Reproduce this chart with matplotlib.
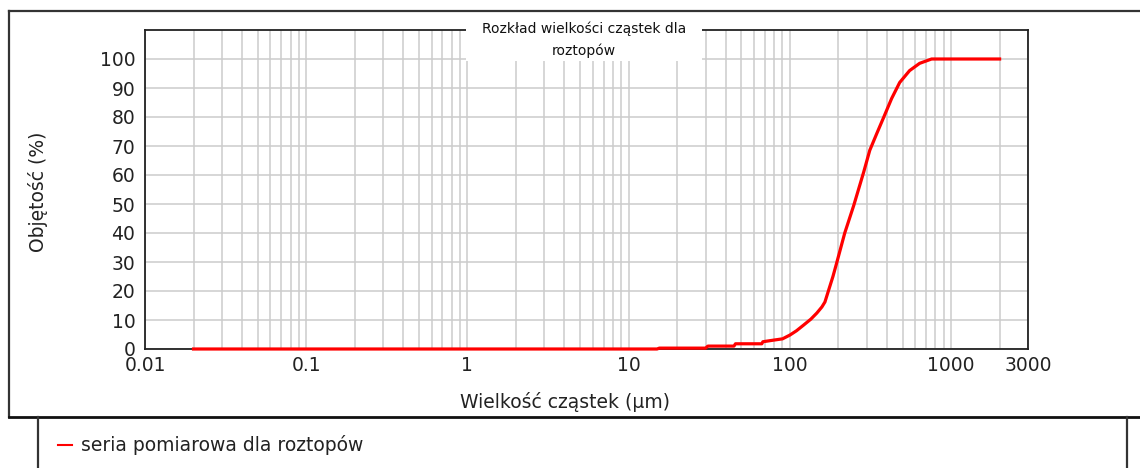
import matplotlib
matplotlib.use("Agg")
import matplotlib.pyplot as plt
from matplotlib.patches import Rectangle
from matplotlib.lines import Line2D
from matplotlib.ticker import FixedLocator, LogLocator, NullFormatter

# particle size (um) and cumulative volume (%)
sizes = [0.02, 15, 15.5, 30, 31, 45, 46, 67, 68, 78, 90, 100, 110, 122, 135,
         147, 158, 165, 174, 185, 195, 219, 249, 287, 313, 346, 382, 428,
         480, 553, 638, 757, 2000]
volume = [0, 0, 0.3, 0.3, 1.0, 1.0, 1.8, 1.8, 2.5, 3.0, 3.5, 4.8, 6.3, 8.3,
          10.3, 12.4, 14.5, 16.2, 20.3, 25.0, 29.6, 40.0, 49.5, 61.0, 68.5,
          74.3, 79.9, 86.4, 91.9, 96.0, 98.5, 100, 100]
xticks = [0.01, 0.1, 1, 10, 100, 1000, 3000]
xtick_labels = ['0.01', '0.1', '1', '10', '100', '1000', '3000']
yticks = [0, 10, 20, 30, 40, 50, 60, 70, 80, 90, 100]

title = 'Rozkład wielkości cząstek dla\nroztopów'
xlabel = 'Wielkość cząstek (µm)'
ylabel = 'Objętość (%)'
series_name = 'seria pomiarowa dla roztopów'

W, H = 1140, 468
fig = plt.figure(figsize=(W / 100, H / 100), dpi=100)
fig.patch.set_facecolor('white')

def fx(px):
    return px / W

def fy(py):
    return 1 - py / H

ax = fig.add_axes([fx(145), fy(349), fx(1028) - fx(145), fy(30) - fy(349)])
ax.set_xscale('log')
ax.set_xlim(0.01, 3000)
ax.set_ylim(0, 110)

ax.plot(sizes, volume, color='#ff0000', linewidth=2.3, clip_on=False, zorder=3)

ax.xaxis.set_major_locator(FixedLocator(xticks))
ax.set_xticklabels(xtick_labels)
ax.xaxis.set_minor_locator(LogLocator(base=10, subs=range(2, 10), numticks=20))
ax.xaxis.set_minor_formatter(NullFormatter())
ax.set_yticks(yticks)

ax.tick_params(axis='both', which='both', length=0, labelsize=13.5, colors='#222222')
ax.tick_params(axis='x', pad=5)
ax.tick_params(axis='y', pad=7)
ax.grid(True, which='both', color='#cccccc', linewidth=1.1)
ax.set_axisbelow(True)
for s in ax.spines.values():
    s.set_color('#222222')
    s.set_linewidth(1.3)

# title sitting on the top edge, with white box behind
fig.add_artist(Rectangle((fx(466), fy(61)), fx(702) - fx(466), fy(18) - fy(61),
                         facecolor='white', edgecolor='none', zorder=5))
fig.text(fx(584), fy(39.5), title, ha='center', va='center', fontsize=10,
         linespacing=1.65, color='#111111', zorder=6)

fig.text(fx(565), fy(402), xlabel, ha='center', va='center', fontsize=13.5, color='#222222')
fig.text(fx(38), fy(192), ylabel, ha='center', va='center', rotation=90,
         fontsize=13.5, color='#222222')

# outer frame and legend box
frame_kw = dict(color='#333333', linewidth=1.6)
fig.add_artist(Line2D([fx(9), fx(9)], [fy(11), fy(417)], **frame_kw))
fig.add_artist(Line2D([fx(9), 1], [fy(11), fy(11)], **frame_kw))
fig.add_artist(Line2D([fx(9), 1], [fy(417), fy(417)], color='#111111', linewidth=2))
fig.add_artist(Line2D([fx(38), fx(38)], [fy(417), 0], **frame_kw))
fig.add_artist(Line2D([fx(1127), fx(1127)], [fy(417), 0], **frame_kw))

fig.add_artist(Line2D([fx(58), fx(72)], [fy(445), fy(445)], color='#ff0000', linewidth=1.5))
fig.text(fx(81), fy(445), series_name, ha='left', va='center', fontsize=13.5, color='#222222')

fig.savefig('out.png', dpi=100)
